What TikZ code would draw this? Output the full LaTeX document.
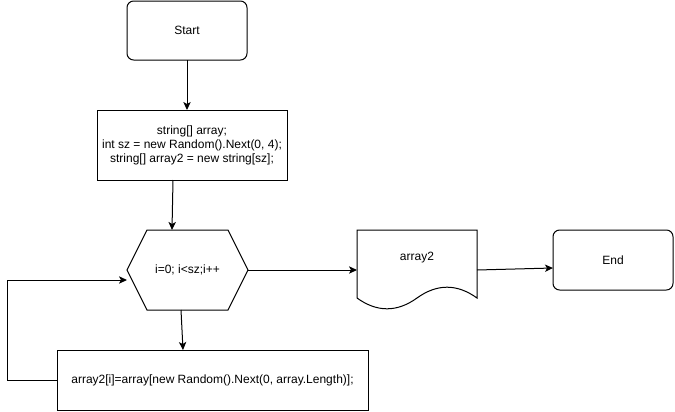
\documentclass[tikz,border=0pt]{standalone}
\usepackage{fontspec}
\setmainfont{Liberation Sans}
\usetikzlibrary{arrows.meta,calc}
\begin{document}
\begin{tikzpicture}[x=0.75pt,y=-0.75pt,
  every node/.style={font=\fontsize{9}{10.5}\selectfont, inner sep=0pt, outer sep=0pt, align=center},
  proc/.style={draw, line width=0.75pt, rectangle},
  term/.style={draw, line width=0.75pt, rectangle, rounded corners=5pt},
  conn/.style={line width=0.75pt, -{Stealth[length=6pt,width=5.5pt,inset=1.5pt]}},
  outline/.style={draw, line width=0.75pt, line join=miter}]
\useasboundingbox (0,0) rectangle (675,411);

\node[term, minimum width=90pt, minimum height=44.25pt] (start) at (187,30.5) {Start};
\node[proc, minimum width=142.5pt, minimum height=52.5pt] (box2) at (192,145)
  {string[] array;\\int sz = new Random().Next(0, 4);\\string[] array2 = new string[sz];};
\node[minimum width=90.75pt, minimum height=60pt] (hex) at (187.5,270) {i=0; i<sz;i++};
\draw[outline] ($(hex.north west)+(20,0)$) -- ($(hex.north east)+(-20,0)$) -- (hex.east)
  -- ($(hex.south east)+(-20,0)$) -- ($(hex.south west)+(20,0)$) -- (hex.west) -- cycle;
\node[proc, minimum width=233.25pt, minimum height=45pt] (box3) at (212.5,380)
  {array2[i]=array[new Random().Next(0, array.Length)];};
\node[minimum width=90pt, minimum height=60pt] (doc) at (417,270) {};
\draw[outline] (357,230) -- (477,230) -- (477,298)
  .. controls (457,283.6) and (437,283.6) .. (417,298)
  .. controls (397,312.4) and (377,312.4) .. (357,298) -- cycle;
\node (doctext) at (417,258) {array2};
\node[term, minimum width=90pt, minimum height=45pt] (end) at (613,260) {End};

\draw[conn] (start.south) -- (start.south |- box2.north);
\draw[conn] ($(box2.south)+(-19,0)$) -- ($(hex.north)+(-15.5,0)$);
\draw[conn] ($(hex.south)+(-6.5,0)$) -- ($(box3.north)+(-29.5,0)$);
\draw[conn] (box3.west) -- ++(-50,0) |- ($(hex.west)+(0,10)$);
\draw[conn] (hex.east) -- (doc.west);
\draw[conn] (doc.east) -- ($(end.west)+(0,8)$);
\end{tikzpicture}
\end{document}
